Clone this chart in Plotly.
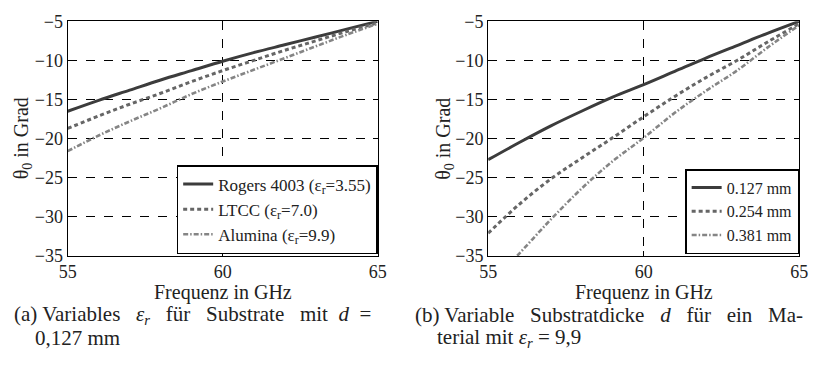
import plotly.graph_objects as go

freq = [55, 56, 57, 58, 59, 60, 61, 62, 63, 64, 65]

# (a) variable eps_r, d = 0.127 mm
rogers = [-16.5, -15.1, -13.8, -12.5, -11.3, -10.1, -9.0, -8.0, -7.0, -6.0, -5.0]
ltcc = [-18.7, -17.1, -15.6, -14.2, -12.7, -11.3, -10.0, -8.7, -7.5, -6.3, -5.2]
alumina = [-21.6, -19.6, -17.8, -16.1, -14.3, -12.7, -11.2, -9.7, -8.2, -6.7, -5.3]

# (b) variable thickness, eps_r = 9.9
d127 = [-22.7, -20.5, -18.4, -16.5, -14.7, -13.1, -11.4, -9.7, -8.1, -6.5, -5.0]
d254 = [-32.1, -28.4, -25.2, -22.5, -19.9, -17.2, -14.6, -12.2, -10.0, -7.6, -5.3]
d381 = [-38.9, -34.7, -30.4, -26.4, -22.9, -19.9, -16.7, -13.9, -11.3, -8.3, -5.5]

names_a = ["Rogers 4003 (ε<sub>r</sub>=3.55)", "LTCC (ε<sub>r</sub>=7.0)", "Alumina (ε<sub>r</sub>=9.9)"]
names_b = ["0.127 mm", "0.254 mm", "0.381 mm"]
x_ticks = [55, 60, 65]
y_ticks = [-35, -30, -25, -20, -15, -10, -5]
x_title = "Frequenz in GHz"
y_title = "θ<sub>0</sub> in Grad"

FONT = "Liberation Serif"
styles = [
    dict(color="#3c3c3c", width=3, dash="solid"),
    dict(color="#666666", width=3, dash="4px,3px"),
    dict(color="#858585", width=2.6, dash="5px,2px,1.5px,2px"),
]

fig = go.Figure()
for ys, nm, st in zip([rogers, ltcc, alumina], names_a, styles):
    fig.add_trace(go.Scatter(x=freq, y=ys, name=nm, mode="lines", line=st,
                             line_shape="spline", xaxis="x", yaxis="y", legend="legend"))
for ys, nm, st in zip([d127, d254, d381], names_b, styles):
    fig.add_trace(go.Scatter(x=freq, y=ys, name=nm, mode="lines", line=st,
                             line_shape="spline", xaxis="x2", yaxis="y2", legend="legend2"))

W, H = 815, 369
top, bot = 12, 260
ydom = [1 - bot / H, 1 - top / H]
xdom1 = [60 / W, 377 / W]
xdom2 = [490 / W, 808 / W]

axis_common = dict(
    showline=True, linecolor="black", linewidth=1.2, mirror="ticks",
    ticks="inside", ticklen=5, tickcolor="black", tickwidth=1,
    showgrid=True, gridcolor="black", gridwidth=0.8, griddash="dash",
    zeroline=False, tickfont=dict(family=FONT, size=18, color="#222"),
)

leg_common = dict(xanchor="right", yanchor="bottom", bgcolor="white",
                  bordercolor="black", borderwidth=1.5, itemwidth=30, tracegroupgap=0)

fig.update_layout(
    width=W, height=H, margin=dict(l=0, r=0, t=0, b=0),
    paper_bgcolor="white", plot_bgcolor="white",
    font=dict(family=FONT, color="#222"),
    xaxis=dict(domain=xdom1, range=[55, 65], tickvals=x_ticks, anchor="y",
               ticklabelstandoff=-1, **axis_common),
    yaxis=dict(domain=ydom, range=[-35, -5], tickvals=y_ticks, anchor="x", **axis_common),
    xaxis2=dict(domain=xdom2, range=[55, 65], tickvals=x_ticks, anchor="y2",
                ticklabelstandoff=-1, **axis_common),
    yaxis2=dict(domain=ydom, range=[-35, -5], tickvals=y_ticks, anchor="x2", **axis_common),
    legend=dict(x=377 / W, y=1 - 258 / H, font=dict(family=FONT, size=17, color="#222"),
                **leg_common),
    legend2=dict(x=808 / W, y=1 - 258 / H, font=dict(family=FONT, size=16, color="#222"),
                 **leg_common),
    showlegend=True,
)

title_font = dict(family=FONT, size=20, color="#222")
for dom in (xdom1, xdom2):
    fig.add_annotation(x=(dom[0] + dom[1]) / 2, y=1 - 299 / H, xref="paper", yref="paper",
                       text=x_title, showarrow=False, xanchor="center", yanchor="middle",
                       font=title_font)
for xp in (14, 445):
    fig.add_annotation(x=xp / W, y=(ydom[0] + ydom[1]) / 2, xref="paper", yref="paper",
                       text=y_title, showarrow=False, xanchor="center", yanchor="middle",
                       textangle=-90, font=title_font)

cap_font = dict(family=FONT, size=21, color="#222")
captions = [
    (3, 322, "(a) Variables   <i>ε<sub>r</sub></i>   für   Substrate   mit  <i>d</i>  ="),
    (25, 347, "0,127 mm"),
    (413, 322, "(b) Variable   Substratdicke   <i>d</i>   für   ein   Ma-"),
    (436, 347, "terial mit <i>ε<sub>r</sub></i> = 9,9"),
]
for xp, yp, txt in captions:
    fig.add_annotation(x=xp / W, y=1 - yp / H, xref="paper", yref="paper", text=txt,
                       showarrow=False, xanchor="left", yanchor="middle", font=cap_font)

fig.write_html("out.html")
